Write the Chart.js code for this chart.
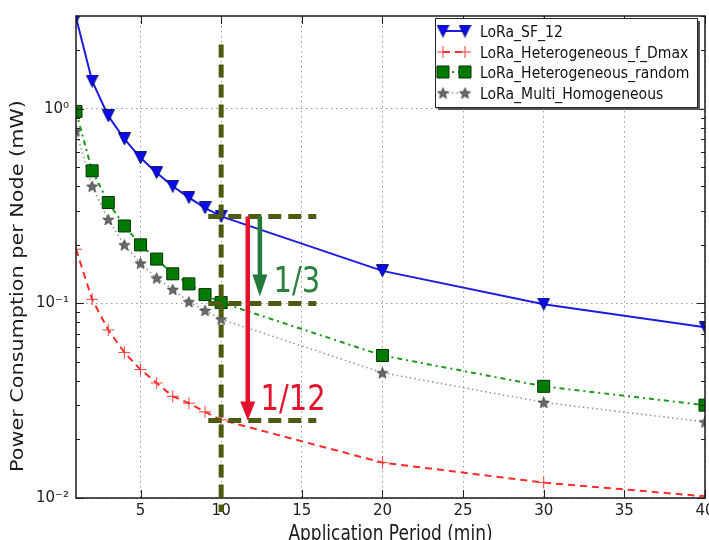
<!DOCTYPE html>
<html lang="en">
<head>
    <meta charset="UTF-8">
    <title>Power Consumption per Node</title>
    <script src="https://cdn.jsdelivr.net/npm/chart.js"></script>
    <style>
        html, body { margin: 0; padding: 0; background: #fff; overflow: hidden; }
        #wrap { width: 709px; height: 540px; overflow: hidden; }
    </style>
</head>
<body>
<div id="wrap"><canvas id="grafico" width="722" height="548"></canvas></div>
<script>
    // Application period (min)
    const periods = [1, 2, 3, 4, 5, 6, 7, 8, 9, 10, 20, 30, 40];

    // Power consumption per node (mW)
    const sf12       = [2.95, 1.39, 0.92, 0.70, 0.56, 0.47, 0.40, 0.35, 0.31, 0.28, 0.147, 0.099, 0.0755];
    const hetDmax    = [0.19, 0.105, 0.073, 0.056, 0.0457, 0.039, 0.0333, 0.0307, 0.0277, 0.0252, 0.0152, 0.0120, 0.0102];
    const hetRandom  = [0.97, 0.48, 0.33, 0.25, 0.20, 0.169, 0.142, 0.126, 0.111, 0.101, 0.054, 0.0375, 0.030];
    const multiHomog = [0.77, 0.40, 0.27, 0.20, 0.161, 0.135, 0.118, 0.102, 0.092, 0.083, 0.044, 0.031, 0.0246];

    const seriesNames = ['LoRa_SF_12', 'LoRa_Heterogeneous_f_Dmax', 'LoRa_Heterogeneous_random', 'LoRa_Multi_Homogeneous'];

    const xTicks = [5, 10, 15, 20, 25, 30, 35, 40];
    const yTicks = [0.01, 0.1, 1];
    const yTickLabels = ['10⁻²', '10⁻¹', '10⁰'];

    const xTitle = 'Application Period (min)';
    const yTitle = 'Power Consumption per Node (mW)';

    // annotation: reference period and the three levels it compares
    const refPeriod = 10;
    const levels = [0.28, 0.1, 0.025];
    const ratioLabels = ['1/3', '1/12'];

    const FONT = "'DejaVu Sans', sans-serif";

    // marker images (matplotlib-like filled triangle and star)
    function triangleDown(size, fill, edge) {
        const c = document.createElement('canvas');
        c.width = c.height = size + 1;
        const g = c.getContext('2d');
        g.beginPath();
        g.moveTo(0.5, 0.5); g.lineTo(size + 0.5, 0.5); g.lineTo(size / 2 + 0.5, size + 0.5);
        g.closePath();
        g.fillStyle = fill; g.fill();
        g.strokeStyle = edge; g.lineWidth = 0.8; g.stroke();
        return c;
    }
    function star(size, fill, edge) {
        const c = document.createElement('canvas');
        c.width = c.height = size;
        const g = c.getContext('2d');
        const cx = size / 2, cy = size / 2 + 0.6, R = size / 2 - 0.6, r = R * 0.42;
        g.beginPath();
        for (let i = 0; i < 10; i++) {
            const a = -Math.PI / 2 + i * Math.PI / 5;
            const rr = i % 2 ? r : R;
            g.lineTo(cx + rr * Math.cos(a), cy + rr * Math.sin(a));
        }
        g.closePath();
        g.fillStyle = fill; g.fill();
        g.strokeStyle = edge; g.lineWidth = 0.7; g.stroke();
        return c;
    }
    const triImg = triangleDown(12, '#0a0aee', '#00005a');
    const starImg = star(13, '#6a6a6a', '#2e2e2e');

    const pts = arr => periods.map((p, i) => ({ x: p, y: arr[i] }));

    function marker(ctx, ds, x, y) {
        const st = ds.pointStyle;
        ctx.setLineDash([]);
        if (st instanceof HTMLCanvasElement) {
            ctx.drawImage(st, x - st.width / 2, y - st.height / 2);
            return;
        }
        ctx.fillStyle = ds.pointBackgroundColor;
        ctx.strokeStyle = ds.pointBorderColor;
        ctx.lineWidth = ds.pointBorderWidth;
        const r = ds.pointRadius;
        ctx.beginPath();
        if (st === 'rect') {
            const s = Math.SQRT1_2 * r;
            ctx.rect(x - s, y - s, 2 * s, 2 * s);
            ctx.fill(); ctx.stroke();
        } else if (st === 'cross') {
            ctx.moveTo(x - r, y); ctx.lineTo(x + r, y);
            ctx.moveTo(x, y - r); ctx.lineTo(x, y + r);
            ctx.stroke();
        }
    }

    function stretchedText(ctx, txt, x, y, size, color, k, align) {
        ctx.save();
        ctx.translate(x, y);
        ctx.scale(1, k);
        ctx.font = size + 'px ' + FONT;
        ctx.fillStyle = color;
        ctx.textAlign = align || 'left';
        ctx.textBaseline = 'alphabetic';
        ctx.fillText(txt, 0, 0);
        ctx.restore();
    }

    function arrow(ctx, x, y0, y1, color, w, headW, headL) {
        ctx.setLineDash([]);
        ctx.strokeStyle = color; ctx.fillStyle = color; ctx.lineWidth = w;
        ctx.beginPath(); ctx.moveTo(x, y0); ctx.lineTo(x, y1 - headL + 1); ctx.stroke();
        ctx.beginPath();
        ctx.moveTo(x - headW / 2, y1 - headL); ctx.lineTo(x + headW / 2, y1 - headL); ctx.lineTo(x, y1);
        ctx.closePath(); ctx.fill();
    }

    const extras = {
        id: 'extras',
        afterDatasetsDraw(chart) {
            const ctx = chart.ctx, ca = chart.chartArea;
            const sx = chart.scales.x, sy = chart.scales.y;
            ctx.save();

            // inward ticks, major and minor
            ctx.strokeStyle = '#222'; ctx.lineWidth = 1; ctx.setLineDash([]);
            ctx.beginPath();
            yTicks.forEach(d => {
                for (let k = 1; k <= 9; k++) {
                    const v = d * k;
                    if (v > sy.max || v < sy.min) continue;
                    const py = Math.round(sy.getPixelForValue(v)) + 0.5;
                    const len = k === 1 ? 8 : 4;
                    ctx.moveTo(ca.left, py); ctx.lineTo(ca.left + len, py);
                    ctx.moveTo(ca.right, py); ctx.lineTo(ca.right - len, py);
                }
            });
            xTicks.forEach(v => {
                const px = Math.round(sx.getPixelForValue(v)) + 0.5;
                ctx.moveTo(px, ca.bottom); ctx.lineTo(px, ca.bottom - 8);
                ctx.moveTo(px, ca.top); ctx.lineTo(px, ca.top + 8);
            });
            ctx.stroke();

            // frame
            ctx.lineWidth = 1.5; ctx.strokeStyle = '#1a1a1a';
            ctx.strokeRect(ca.left, ca.top, ca.right - ca.left, ca.bottom - ca.top);

            // olive dashed guides
            const olive = '#4e5a12';
            ctx.strokeStyle = olive; ctx.lineWidth = 5; ctx.setLineDash([13, 7]);
            const vx = sx.getPixelForValue(refPeriod);
            ctx.beginPath();
            ctx.moveTo(vx, sy.getPixelForValue(2.14)); ctx.lineTo(vx, ca.bottom + 14);
            ctx.stroke();
            const hx0 = sx.getPixelForValue(9.2), hx1 = sx.getPixelForValue(15.9);
            levels.forEach(l => {
                const py = sy.getPixelForValue(l);
                ctx.beginPath(); ctx.moveTo(hx0, py); ctx.lineTo(hx1, py); ctx.stroke();
            });

            // arrows
            const yTop = sy.getPixelForValue(levels[0]);
            arrow(ctx, sx.getPixelForValue(11.65), yTop, sy.getPixelForValue(levels[2]), '#e5102b', 4.5, 15, 19);
            arrow(ctx, sx.getPixelForValue(12.4), yTop, sy.getPixelForValue(0.1086), '#217a3b', 4.5, 15, 22);

            stretchedText(ctx, ratioLabels[0], sx.getPixelForValue(13.25), sy.getPixelForValue(0.115), 29, '#2b7f3f', 1.25);
            stretchedText(ctx, ratioLabels[1], sx.getPixelForValue(12.44), sy.getPixelForValue(0.0283), 29, '#e3132d', 1.25);

            // legend
            const lb = { x: 435, y: 18, w: 262, h: 89 };
            ctx.setLineDash([]);
            ctx.fillStyle = '#555';
            ctx.fillRect(lb.x + 3, lb.y + 3, lb.w, lb.h);
            ctx.fillStyle = '#fff';
            ctx.fillRect(lb.x, lb.y, lb.w, lb.h);
            ctx.strokeStyle = '#222'; ctx.lineWidth = 1;
            ctx.strokeRect(lb.x + 0.5, lb.y + 0.5, lb.w, lb.h);
            const rows = [31, 52, 72, 93];
            chart.data.datasets.forEach((ds, i) => {
                const ry = rows[i];
                ctx.strokeStyle = ds.borderColor; ctx.lineWidth = ds.borderWidth;
                ctx.setLineDash(ds.borderDash || []);
                ctx.beginPath(); ctx.moveTo(443, ry); ctx.lineTo(465, ry); ctx.stroke();
                marker(ctx, ds, 443, ry);
                marker(ctx, ds, 465, ry);
                stretchedText(ctx, ds.label, 480, ry + 5.5, 14, '#111', 1.15);
            });

            // axis titles
            stretchedText(ctx, xTitle, (ca.left + ca.right) / 2, 540, 17, '#1a1a1a', 1.22, 'center');
            ctx.save();
            ctx.translate(22.5, 286);
            ctx.rotate(-Math.PI / 2);
            ctx.scale(1.22, 1);
            ctx.font = '17px ' + FONT;
            ctx.fillStyle = '#1a1a1a';
            ctx.textAlign = 'center';
            ctx.fillText(yTitle, 0, 0);
            ctx.restore();

            ctx.restore();
        }
    };

    const ctx = document.getElementById('grafico').getContext('2d');
    new Chart(ctx, {
        type: 'line',
        data: {
            datasets: [
                {
                    label: seriesNames[0],
                    data: pts(sf12),
                    borderColor: '#1c1ce0',
                    borderWidth: 2,
                    pointStyle: triImg,
                    pointRadius: 6,
                    pointBackgroundColor: '#0a0aee',
                    pointBorderColor: '#00005a',
                    pointBorderWidth: 0.8
                },
                {
                    label: seriesNames[1],
                    data: pts(hetDmax),
                    borderColor: '#ff2a2a',
                    borderWidth: 2,
                    borderDash: [7, 5],
                    pointStyle: 'cross',
                    pointRadius: 6,
                    pointBackgroundColor: '#ff3030',
                    pointBorderColor: '#ff3a3a',
                    pointBorderWidth: 1
                },
                {
                    label: seriesNames[2],
                    data: pts(hetRandom),
                    borderColor: '#1e961e',
                    borderWidth: 2,
                    borderDash: [5, 4, 2, 4],
                    pointStyle: 'rect',
                    pointRadius: 8.5,
                    pointBackgroundColor: '#007a00',
                    pointBorderColor: '#003300',
                    pointBorderWidth: 1
                },
                {
                    label: seriesNames[3],
                    data: pts(multiHomog),
                    borderColor: '#999999',
                    borderWidth: 1.6,
                    borderDash: [1.5, 3],
                    pointStyle: starImg,
                    pointRadius: 6,
                    pointBackgroundColor: '#6a6a6a',
                    pointBorderColor: '#2e2e2e',
                    pointBorderWidth: 0.7
                }
            ]
        },
        options: {
            responsive: false,
            animation: false,
            layout: { padding: { left: 0, top: 12, right: 17, bottom: 0 } },
            plugins: {
                legend: { display: false },
                tooltip: { enabled: false }
            },
            scales: {
                x: {
                    type: 'linear',
                    min: 1,
                    max: 40,
                    afterBuildTicks: s => { s.ticks = xTicks.map(v => ({ value: v })); },
                    afterFit: s => { s.height = 50; },
                    grid: { color: '#9a9a9a', lineWidth: 1, drawTicks: false },
                    border: { display: false, dash: [1.5, 3.5] },
                    ticks: {
                        padding: 4,
                        color: '#222',
                        font: { family: FONT, size: 15 },
                        maxRotation: 0,
                        callback: v => String(v)
                    }
                },
                y: {
                    type: 'logarithmic',
                    min: 0.01,
                    max: 3,
                    afterBuildTicks: s => { s.ticks = yTicks.map(v => ({ value: v, major: true })); },
                    afterFit: s => { s.width = 76; },
                    grid: { color: '#9a9a9a', lineWidth: 1, drawTicks: false },
                    border: { display: false, dash: [1.5, 3.5] },
                    ticks: {
                        padding: 7,
                        color: '#222',
                        font: { family: FONT, size: 15 },
                        callback: v => yTickLabels[yTicks.indexOf(v)]
                    }
                }
            }
        },
        plugins: [extras]
    });
</script>
</body>
</html>
